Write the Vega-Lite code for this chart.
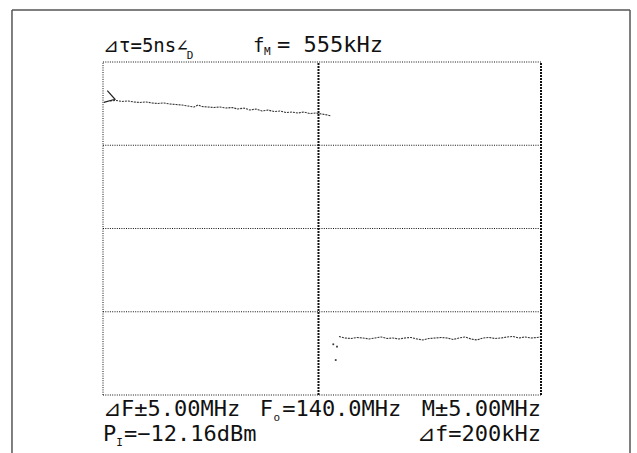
{
  "$schema": "https://vega.github.io/schema/vega-lite/v6.json",
  "width": 438,
  "height": 333,
  "autosize": "none",
  "padding": {"left": 103, "top": 62, "right": 96, "bottom": 58},
  "background": "white",
  "config": {"view": {"stroke": null}},
  "datasets": {
    "grid": [
      {"x": 0, "y": 4, "x2": 10, "y2": 4},
      {"x": 0, "y": 3, "x2": 10, "y2": 3},
      {"x": 0, "y": 2, "x2": 10, "y2": 2},
      {"x": 0, "y": 1, "x2": 10, "y2": 1},
      {"x": 0, "y": 0, "x2": 10, "y2": 0},
      {"x": 0, "y": 0, "x2": 0, "y2": 4}
    ],
    "gridbold": [
      {"x": 4.92, "y": 0, "x2": 4.92, "y2": 4},
      {"x": 10, "y": 0, "x2": 10, "y2": 4}
    ],
    "frame": [
      {"x": -2.078, "y": 4.625, "x2": 12.032, "y2": 4.625},
      {"x": -2.078, "y": 4.625, "x2": -2.078, "y2": -0.7},
      {"x": 12.032, "y": 4.625, "x2": 12.032, "y2": -0.7}
    ],
    "trace": [
      {"s": "a", "x": 0.160, "y": 3.532}, {"s": "a", "x": 0.297, "y": 3.538}, {"s": "a", "x": 0.434, "y": 3.526},
      {"s": "a", "x": 0.571, "y": 3.532}, {"s": "a", "x": 0.708, "y": 3.520}, {"s": "a", "x": 0.845, "y": 3.514},
      {"s": "a", "x": 0.982, "y": 3.520}, {"s": "a", "x": 1.119, "y": 3.508}, {"s": "a", "x": 1.256, "y": 3.502},
      {"s": "a", "x": 1.393, "y": 3.508}, {"s": "a", "x": 1.530, "y": 3.495}, {"s": "a", "x": 1.667, "y": 3.489},
      {"s": "a", "x": 1.804, "y": 3.483}, {"s": "a", "x": 1.941, "y": 3.471}, {"s": "a", "x": 2.078, "y": 3.459},
      {"s": "a", "x": 2.169, "y": 3.483}, {"s": "a", "x": 2.260, "y": 3.465}, {"s": "a", "x": 2.397, "y": 3.459},
      {"s": "a", "x": 2.534, "y": 3.453}, {"s": "a", "x": 2.671, "y": 3.459}, {"s": "a", "x": 2.808, "y": 3.447},
      {"s": "a", "x": 2.945, "y": 3.453}, {"s": "a", "x": 3.082, "y": 3.435}, {"s": "a", "x": 3.219, "y": 3.447},
      {"s": "a", "x": 3.356, "y": 3.423}, {"s": "a", "x": 3.493, "y": 3.435}, {"s": "a", "x": 3.630, "y": 3.411},
      {"s": "a", "x": 3.767, "y": 3.423}, {"s": "a", "x": 3.904, "y": 3.405}, {"s": "a", "x": 4.041, "y": 3.411},
      {"s": "a", "x": 4.178, "y": 3.393}, {"s": "a", "x": 4.315, "y": 3.399}, {"s": "a", "x": 4.452, "y": 3.387},
      {"s": "a", "x": 4.589, "y": 3.399}, {"s": "a", "x": 4.726, "y": 3.381}, {"s": "a", "x": 4.863, "y": 3.387},
      {"s": "a", "x": 5.000, "y": 3.375}, {"s": "a", "x": 5.137, "y": 3.363}, {"s": "a", "x": 5.205, "y": 3.351},
      {"s": "b", "x": 5.388, "y": 0.703}, {"s": "b", "x": 5.525, "y": 0.685}, {"s": "b", "x": 5.662, "y": 0.679},
      {"s": "b", "x": 5.799, "y": 0.691}, {"s": "b", "x": 5.936, "y": 0.685}, {"s": "b", "x": 6.073, "y": 0.673},
      {"s": "b", "x": 6.210, "y": 0.685}, {"s": "b", "x": 6.347, "y": 0.697}, {"s": "b", "x": 6.484, "y": 0.679},
      {"s": "b", "x": 6.621, "y": 0.685}, {"s": "b", "x": 6.758, "y": 0.673}, {"s": "b", "x": 6.895, "y": 0.685},
      {"s": "b", "x": 7.032, "y": 0.691}, {"s": "b", "x": 7.169, "y": 0.673}, {"s": "b", "x": 7.306, "y": 0.661},
      {"s": "b", "x": 7.443, "y": 0.679}, {"s": "b", "x": 7.580, "y": 0.685}, {"s": "b", "x": 7.717, "y": 0.691},
      {"s": "b", "x": 7.854, "y": 0.685}, {"s": "b", "x": 7.991, "y": 0.667}, {"s": "b", "x": 8.128, "y": 0.685},
      {"s": "b", "x": 8.265, "y": 0.697}, {"s": "b", "x": 8.402, "y": 0.673}, {"s": "b", "x": 8.539, "y": 0.661},
      {"s": "b", "x": 8.676, "y": 0.685}, {"s": "b", "x": 8.813, "y": 0.691}, {"s": "b", "x": 8.950, "y": 0.679},
      {"s": "b", "x": 9.087, "y": 0.685}, {"s": "b", "x": 9.224, "y": 0.697}, {"s": "b", "x": 9.361, "y": 0.703},
      {"s": "b", "x": 9.498, "y": 0.685}, {"s": "b", "x": 9.635, "y": 0.697}, {"s": "b", "x": 9.772, "y": 0.685},
      {"s": "b", "x": 9.909, "y": 0.691}, {"s": "b", "x": 10.0, "y": 0.697}
    ],
    "marker": [
      {"i": 1, "x": 0.098, "y": 3.655},
      {"i": 2, "x": 0.274, "y": 3.552},
      {"i": 3, "x": 0.02, "y": 3.515}
    ],
    "dots": [
      {"x": 5.258, "y": 0.609}, {"x": 5.342, "y": 0.580}, {"x": 5.313, "y": 0.420}
    ],
    "textL": [
      {"x": 3.973, "y": 4.12, "t": "= 555kHz"},
      {"x": 0, "y": -0.252, "t": "⊿F±5.00MHz"},
      {"x": 3.58, "y": -0.252, "t": "F"},
      {"x": 4.09, "y": -0.252, "t": "=140.0MHz"},
      {"x": 0, "y": -0.553, "t": "P"},
      {"x": 0.48, "y": -0.553, "t": "=−12.16dBm"}
    ],
    "textTop": [
      {"x": 0, "y": 4.12, "t": "⊿τ=5ns"},
      {"x": 1.68, "y": 4.12, "t": "∠"},
      {"x": 3.425, "y": 4.12, "t": "f"}
    ],
    "textR": [
      {"x": 10, "y": -0.252, "t": "M±5.00MHz"},
      {"x": 10, "y": -0.553, "t": "⊿f=200kHz"}
    ],
    "textS": [
      {"x": 1.91, "y": 4.04, "t": "D"},
      {"x": 3.676, "y": 4.084, "t": "M"},
      {"x": 3.89, "y": -0.31, "t": "o"},
      {"x": 0.30, "y": -0.61, "t": "I"}
    ]
  },
  "encoding": {
    "x": {"field": "x", "type": "quantitative", "scale": {"domain": [0, 10], "nice": false, "zero": false}, "axis": null},
    "y": {"field": "y", "type": "quantitative", "scale": {"domain": [0, 4], "nice": false, "zero": false}, "axis": null}
  },
  "layer": [
    {
      "data": {"name": "frame"},
      "mark": {"type": "rule", "color": "#555555", "strokeWidth": 1.5},
      "encoding": {"x2": {"field": "x2"}, "y2": {"field": "y2"}}
    },
    {
      "data": {"name": "grid"},
      "mark": {"type": "rule", "color": "#111111", "strokeWidth": 1, "strokeDash": [1, 1.3]},
      "encoding": {"x2": {"field": "x2"}, "y2": {"field": "y2"}}
    },
    {
      "data": {"name": "gridbold"},
      "mark": {"type": "rule", "color": "#111111", "strokeWidth": 2, "strokeDash": [2, 1]},
      "encoding": {"x2": {"field": "x2"}, "y2": {"field": "y2"}}
    },
    {
      "data": {"name": "trace"},
      "mark": {"type": "line", "color": "#333333", "strokeWidth": 1.1, "strokeDash": [2, 1]},
      "encoding": {"detail": {"field": "s", "type": "nominal"}}
    },
    {
      "data": {"name": "marker"},
      "mark": {"type": "line", "color": "#222222", "strokeWidth": 1.2},
      "encoding": {"order": {"field": "i", "type": "quantitative"}}
    },
    {
      "data": {"name": "dots"},
      "mark": {"type": "square", "color": "#333333", "size": 3, "opacity": 1}
    },
    {
      "data": {"name": "textL"},
      "mark": {"type": "text", "align": "left", "baseline": "alphabetic", "font": "DejaVu Sans Mono", "fontSize": 22, "color": "#111111"},
      "encoding": {"text": {"field": "t"}}
    },
    {
      "data": {"name": "textTop"},
      "mark": {"type": "text", "align": "left", "baseline": "alphabetic", "font": "DejaVu Sans Mono", "fontSize": 19, "color": "#111111"},
      "encoding": {"text": {"field": "t"}}
    },
    {
      "data": {"name": "textR"},
      "mark": {"type": "text", "align": "right", "baseline": "alphabetic", "font": "DejaVu Sans Mono", "fontSize": 22, "color": "#111111"},
      "encoding": {"text": {"field": "t"}}
    },
    {
      "data": {"name": "textS"},
      "mark": {"type": "text", "align": "left", "baseline": "alphabetic", "font": "DejaVu Sans Mono", "fontSize": 11, "color": "#111111"},
      "encoding": {"text": {"field": "t"}}
    }
  ]
}
